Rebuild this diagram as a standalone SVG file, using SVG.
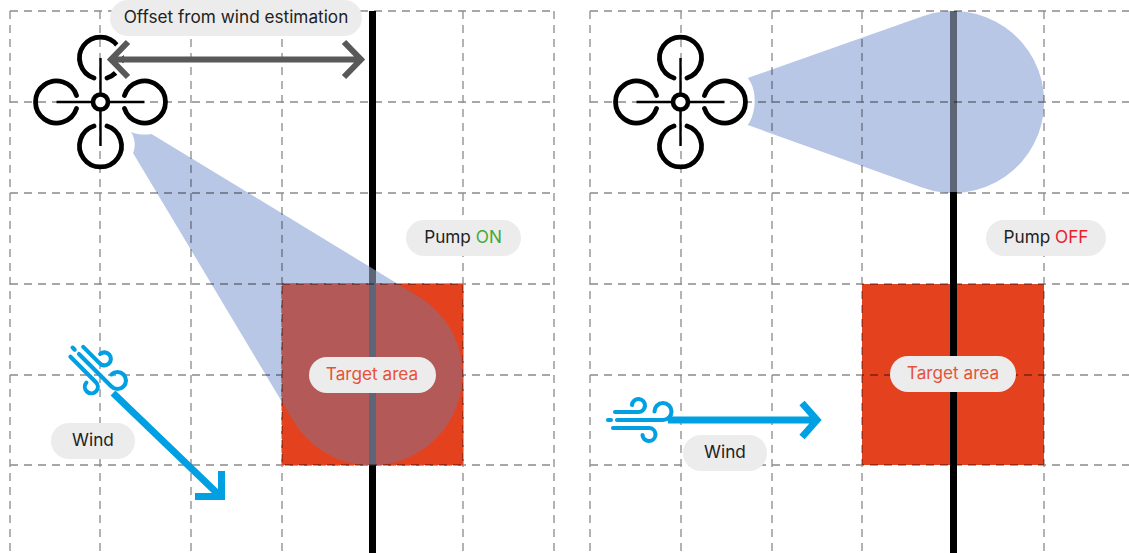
<svg xmlns="http://www.w3.org/2000/svg" xmlns:xlink="http://www.w3.org/1999/xlink" width="1129" height="553" viewBox="0 0 1129 553">
<style>
text{font-family:"Inter","Liberation Sans",sans-serif;font-size:17.2px;fill:#222;text-anchor:middle}
.grid{stroke:#000;stroke-opacity:.46;stroke-width:1.3;stroke-dasharray:8 6;fill:none}
.pill{fill:#ececec}
.arm{stroke:#000;stroke-width:2.4;fill:none}
.rotor{stroke:#000;stroke-width:4.8;fill:none;stroke-linecap:round}
.hub{stroke:#000;stroke-width:4.6;fill:#fff}
.wind{stroke:#00a0e3;stroke-width:4.1;stroke-linecap:round;fill:none}
.shaft{stroke:#00a0e3;stroke-width:7;fill:none}
.offset{stroke:#595959;stroke-width:6;fill:none}
.halo{stroke:#fff;stroke-width:12;fill:none}
.plume{fill:#b9c7e6}
.target{fill:#e4411f}
.orange{fill:#e4533a}
</style>
<defs>
<g id="drone">
<path class="arm" d="M0-44V44M-44 0H44"/>
<circle class="hub" r="7.5"/>
<path class="rotor" d="M-6.500-24A21 21 0 1 1 6.500-24"/>
<path class="rotor" d="M-24-6.500A21 21 0 1 0-24 6.500"/>
<path class="rotor" d="M24-6.500A21 21 0 1 1 24 6.500"/>
<path class="rotor" d="M-6.500 24A21 21 0 1 0 6.500 24"/>
</g>
<g id="gust">
<path class="wind" d="M-60 0H-57"/>
<path class="wind" d="M-53-8H-30A6.500 6.500 0 1 0-36-15"/>
<path class="wind" d="M-51 0H-5A8.500 8.500 0 1 0-13.500-8.500"/>
<path class="wind" d="M-55 8H-19A6.500 6.500 0 1 1-25.500 15"/>
</g>
<clipPath id="plumeL"><path d="M151.500 134L421 298A91 91 0 1 1 294 422L133 153C136 146 135 138 131 132C138 135 146 135 151.500 134Z"/></clipPath>
</defs>
<g id="left-panel">
<path class="plume" d="M151.500 134L421 298A91 91 0 1 1 294 422L133 153C136 146 135 138 131 132C138 135 146 135 151.500 134Z"/>
<path id="grid-left" class="grid" d="M10 11V553M100 11V553M191 11V553M282 11V553M463 11V553M554 11V553M10 11H554M10 102H554M10 193H554M10 284H554M10 375H554M10 465H554"/>
<g id="target-left"><rect class="target" x="282" y="284" width="181" height="181"/></g>
<rect x="369" y="11" width="7" height="542" fill="#000"/>
<g clip-path="url(#plumeL)"><rect x="282" y="284" width="181" height="181" fill="#b35a58"/><rect x="369" y="11" width="7" height="542" fill="#5d6577"/></g>
<rect class="grid" x="282" y="284" width="181" height="181"/>
<use id="drone-left" xlink:href="#drone" href="#drone" x="100.500" y="102"/>
<g id="wind-left"><use xlink:href="#gust" href="#gust" transform="translate(115,390) rotate(45)"/></g>
<g id="connectors-left">
<path class="shaft" d="M113 393L218 494M221.500 471V496.500H195"/>
<path class="halo" d="M128 42L111 59.500L128 77"/>
<path class="offset" d="M111 59.500H361M128 42L111 59.500L128 77M344 42L361 59.500L344 77"/>
</g>
<g id="label-offset"><rect class="pill" x="110" y="0" width="252" height="36" rx="18"/><text x="236" y="23">Offset from wind estimation</text></g>
<g id="label-pump-on"><rect class="pill" x="406" y="220" width="115" height="36" rx="18"/><text x="463" y="243">Pump <tspan fill="#3eab35">ON</tspan></text></g>
<g id="label-target-left"><rect class="pill" x="309" y="357" width="127" height="36" rx="18"/><text class="orange" x="372" y="380">Target area</text></g>
<g id="label-wind-left"><rect class="pill" x="51" y="423" width="84" height="36" rx="18"/><text x="93" y="446">Wind</text></g>
</g>
<g id="right-panel">
<path class="plume" d="M747.700 78L922 16.500A91 91 0 1 1 922 187.500L747.700 125C756 114 758 90 747.700 78Z"/>
<rect class="target" x="862" y="284" width="182" height="181"/>
<rect x="950" y="11" width="7" height="542" fill="#000"/>
<rect x="950" y="11" width="7" height="181" fill="#5d6577"/>
<path id="grid-right" class="grid" d="M590 11V553M681 11V553M772 11V553M862 11V553M1044 11V553M590 11H1129M590 102H1129M590 193H1129M590 284H1129M590 375H1129M590 465H1129"/>
<use id="drone-right" xlink:href="#drone" href="#drone" x="680.500" y="102"/>
<g id="wind-right"><use xlink:href="#gust" href="#gust" transform="translate(668,420)"/></g>
<g id="connectors-right"><path class="shaft" d="M668 420H816M802 403L817 420L802 437"/></g>
<g id="label-pump-off"><rect class="pill" x="986" y="220" width="120" height="36" rx="18"/><text x="1046" y="243">Pump <tspan fill="#e8202a">OFF</tspan></text></g>
<g id="label-target-right"><rect class="pill" x="890" y="356" width="126" height="36" rx="18"/><text class="orange" x="953" y="379">Target area</text></g>
<g id="label-wind-right"><rect class="pill" x="683" y="435" width="84" height="36" rx="18"/><text x="725" y="458">Wind</text></g>
</g>
</svg>
